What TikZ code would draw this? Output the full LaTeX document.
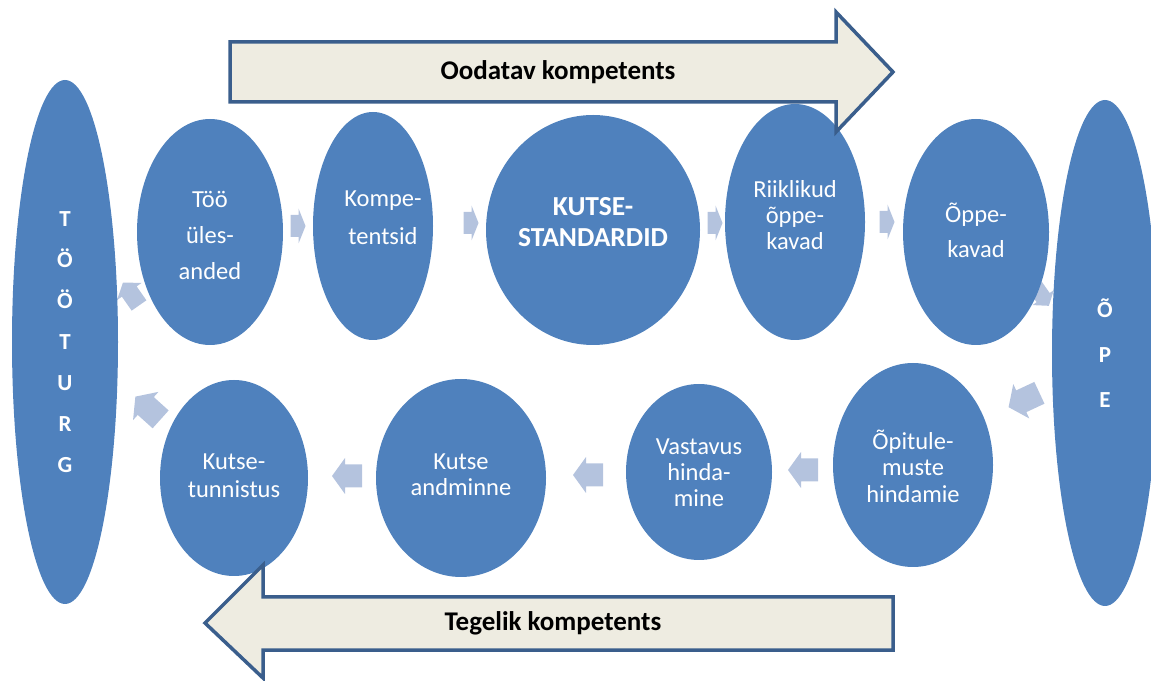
\documentclass[tikz,border=0pt]{standalone}
\usepackage{fontspec}
\setmainfont{Carlito}
\usetikzlibrary{shapes.geometric}
\definecolor{nodeblue}{HTML}{4F81BD}
\definecolor{arrowblue}{HTML}{B4C3DE}
\definecolor{bigfill}{HTML}{EEECE1}
\definecolor{bigline}{HTML}{3A5E8C}
\newcommand{\barrow}[6]{\fill[smallarrow,shift={#1},rotate=#2] (-#3/2,-#4/2) -- (#3/2-#6,-#4/2) -- (#3/2-#6,-#5/2) -- (#3/2,0) -- (#3/2-#6,#5/2) -- (#3/2-#6,#4/2) -- (-#3/2,#4/2) -- cycle;}
\begin{document}
\begin{tikzpicture}[x=1pt,y=1pt,
  bubble/.style={ellipse, fill=nodeblue, draw=none, inner sep=0pt},
  lbl/.style={text=white, align=center, inner sep=0pt},
  smallarrow/.style={fill=arrowblue},
  bigarrow/.style={fill=bigfill, draw=bigline, line width=3.5pt, line join=miter},
  arrowtext/.style={font=\fontsize{27}{30}\bfseries\selectfont, text=black}]
\useasboundingbox (0,0) rectangle (1151,680);
% small cycle arrows (behind the bubbles)
\barrow{(298,454)}{0}{15}{22}{35}{7}
\barrow{(471,457)}{0}{15}{22}{35}{7}
\barrow{(715,457)}{0}{15}{22}{35}{7}
\barrow{(887,458)}{0}{15}{22}{35}{7}
\barrow{(1042,384)}{-55}{24}{16}{26}{10}
\barrow{(1024,280)}{205}{34}{24}{38}{14}
\barrow{(803,210)}{180}{30}{23}{36}{13}
\barrow{(588,205)}{180}{30}{23}{36}{13}
\barrow{(347,204)}{180}{30}{23}{36}{13}
\barrow{(148,272)}{138}{34}{24}{38}{14}
\barrow{(131,386)}{125}{28}{18}{30}{11}
% bubbles
\node[bubble, minimum width=106pt, minimum height=524pt] (tooturg) at (65,338) {};
\node[bubble, minimum width=106pt, minimum height=506pt] (ope) at (1105,327) {};
\node[bubble, minimum width=146pt, minimum height=226pt] (too) at (210,448) {};
\node[bubble, minimum width=120pt, minimum height=228pt] (komp) at (373,454) {};
\node[bubble, minimum width=214pt, minimum height=230pt] (kutse) at (593,450) {};
\node[bubble, minimum width=140pt, minimum height=236pt] (riik) at (795,458) {};
\node[bubble, minimum width=146pt, minimum height=226pt] (oppek) at (976,448) {};
\node[bubble, minimum width=148pt, minimum height=196pt] (tunn) at (234,202) {};
\node[bubble, minimum width=170pt, minimum height=198pt] (andm) at (461,202) {};
\node[bubble, minimum width=146pt, minimum height=176pt] (vast) at (699,208) {};
\node[bubble, minimum width=160pt, minimum height=204pt] (opit) at (913,215) {};
% labels
\node[lbl, font=\fontsize{23}{41}\bfseries\selectfont] (tooturg-t) at (tooturg.center) {T\\Ö\\Ö\\T\\U\\R\\G};
\node[lbl, font=\fontsize{23}{45}\bfseries\selectfont] (ope-t) at (ope.center) {Õ\\P\\E};
\node[lbl, font=\fontsize{24.5}{36}\selectfont] (too-t) at ([yshift=-3pt]too.center) {Töö\\üles-\\anded};
\node[lbl, font=\fontsize{24.5}{38}\selectfont] (komp-t) at ([xshift=10pt,yshift=8pt]komp.center) {Kompe-\\tentsid};
\node[lbl, font=\fontsize{27.5}{31}\bfseries\selectfont] (kutse-t) at ([yshift=8pt]kutse.center) {KUTSE-\\STANDARDID};
\node[lbl, font=\fontsize{24.5}{26}\selectfont] (riik-t) at ([yshift=7pt]riik.center) {Riiklikud\\õppe-\\kavad};
\node[lbl, font=\fontsize{24.5}{35}\selectfont] (oppek-t) at ([yshift=2pt]oppek.center) {Õppe-\\kavad};
\node[lbl, font=\fontsize{24.5}{28}\selectfont] (tunn-t) at ([yshift=2pt]tunn.center) {Kutse-\\tunnistus};
\node[lbl, font=\fontsize{24.5}{26}\selectfont] (andm-t) at ([yshift=3pt]andm.center) {Kutse\\andminne};
\node[lbl, font=\fontsize{24.5}{26}\selectfont] (vast-t) at ([yshift=-1pt]vast.center) {Vastavus\\hinda-\\mine};
\node[lbl, font=\fontsize{24.5}{26.5}\selectfont] (opit-t) at ([yshift=-1pt]opit.center) {Õpitule-\\muste\\hindamie};
% big arrows
\draw[bigarrow] (230,638) -- (836,638) -- (836,668) -- (893,608) -- (836,548) -- (836,578) -- (230,578) -- cycle;
\node[arrowtext] (oodatav) at (558,608) {Oodatav kompetents};
\draw[bigarrow] (893,83) -- (263,83) -- (263,115) -- (205,57) -- (263,2) -- (263,30) -- (893,30) -- cycle;
\node[arrowtext] (tegelik) at (553,57) {Tegelik kompetents};
\end{tikzpicture}
\end{document}
